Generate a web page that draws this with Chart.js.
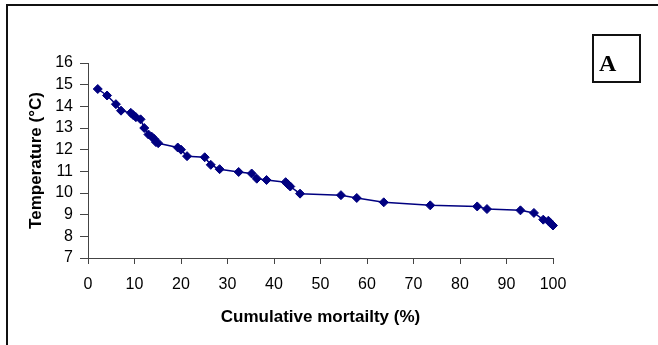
<!DOCTYPE html>
<html>
<head>
<meta charset="utf-8">
<script src="https://cdn.jsdelivr.net/npm/chart.js@4"></script>
<style>
    body { margin: 0; background: #fff; }
    #wrap { position: relative; width: 658px; height: 345px; overflow: hidden; }
    #frame { position: absolute; left: 6px; top: 4px; width: 700px; height: 400px;
             border-left: 2px solid #111; border-top: 2px solid #111; }
    #tag { position: absolute; left: 592px; top: 34px; width: 45px; height: 45px;
           border: 2px solid #111; }
    #tag span { position: absolute; left: 5px; top: 14px; font: bold 24px "Liberation Serif", "Times New Roman", serif; color: #000; }
    #chart { position: absolute; left: 0; top: 0; }
</style>
</head>
<body>
<div id="wrap">
    <div id="frame"></div>
    <canvas id="chart" width="658" height="345"></canvas>
    <div id="tag"><span>A</span></div>
</div>
<script>
// cumulative mortality (%) and matching temperature (°C)
var mortality = [2.1, 4.1, 6.0, 7.1, 9.2, 9.7, 10.3, 11.3, 12.1, 13.0, 13.7, 14.2, 14.6, 15.1,
    19.3, 20.0, 21.3, 25.1, 26.4, 28.3, 32.4, 35.2, 36.3, 38.4, 42.5, 43.0, 43.5, 45.6,
    54.4, 57.8, 63.6, 73.6, 83.7, 85.8, 93.0, 95.9, 97.9, 99.0, 99.5, 100];
var temperature = [14.8, 14.5, 14.1, 13.8, 13.7, 13.6, 13.5, 13.4, 13.0, 12.7, 12.6, 12.5, 12.35, 12.3,
    12.1, 12.0, 11.7, 11.65, 11.3, 11.1, 10.97, 10.9, 10.66, 10.6, 10.5, 10.4, 10.3, 9.97,
    9.9, 9.77, 9.57, 9.43, 9.38, 9.26, 9.2, 9.08, 8.77, 8.72, 8.6, 8.5];

var xTitle = "Cumulative mortailty (%)";
var yTitle = "Temperature (°C)";

var points = mortality.map(function (m, i) {
    return { x: m, y: temperature[i] };
});

var tickFont = { family: "'Liberation Sans', Arial, sans-serif", size: 16 };
var titleFont = { family: "'Liberation Sans', Arial, sans-serif", size: 17, weight: 'bold' };

const config = {
    type: 'scatter',
    data: {
        datasets: [{
            data: points,
            showLine: true,
            clip: false,
            borderColor: '#000080',
            borderWidth: 1.5,
            backgroundColor: '#000080',
            pointStyle: 'rectRot',
            pointRadius: 4.5,
            pointBorderWidth: 1
        }]
    },
    options: {
        responsive: false,
        animation: false,
        layout: {
            padding: { left: 0, right: 105, top: 63, bottom: 0 }
        },
        plugins: {
            legend: { display: false },
            tooltip: { enabled: false }
        },
        scales: {
            x: {
                type: 'linear',
                min: 0,
                max: 100,
                afterFit: function (scale) { scale.height = 87; },
                ticks: { stepSize: 10, color: '#000', font: tickFont, padding: 11, maxRotation: 0, autoSkip: false },
                grid: { drawOnChartArea: false, drawTicks: true, tickLength: 6, color: '#444' },
                border: { color: '#444', width: 1 },
                title: { display: true, text: xTitle, color: '#000', font: titleFont, padding: { top: 0, bottom: 17 } }
            },
            y: {
                min: 7,
                max: 16,
                afterFit: function (scale) { scale.width = 88; },
                ticks: { stepSize: 1, color: '#000', font: tickFont, padding: 7, autoSkip: false },
                grid: { drawOnChartArea: false, drawTicks: true, tickLength: 8, color: '#444' },
                border: { color: '#444', width: 1 },
                title: { display: true, text: yTitle, color: '#000', font: titleFont, padding: { top: 26, bottom: 0 } }
            }
        }
    }
}

new Chart(document.getElementById("chart"), config);
</script>
</body>
</html>
